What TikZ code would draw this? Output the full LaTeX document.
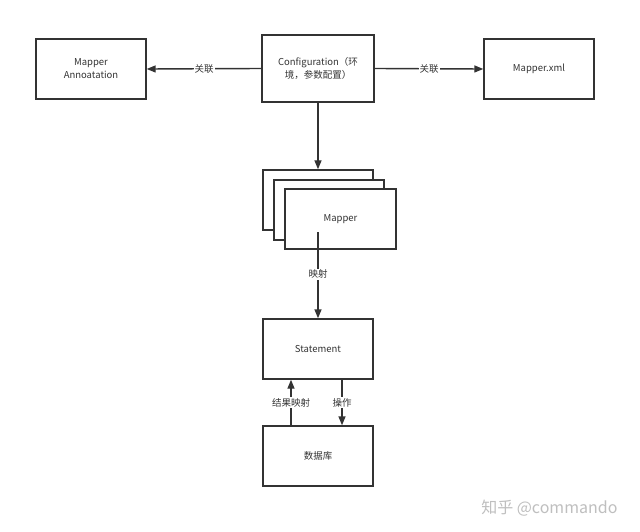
\documentclass[tikz,border=0pt]{standalone}
\usepackage{fontspec}
\setmainfont{Noto Sans CJK SC}
\usetikzlibrary{arrows.meta}
\definecolor{ink}{HTML}{333333}
\begin{document}
\begin{tikzpicture}[x=1pt,y=-1pt,
  box/.style={draw=ink,line width=1.4pt,fill=white,inner sep=0pt,font=\fontsize{9.5}{13}\selectfont,align=center,text=ink},
  conn/.style={draw=ink,line width=1.4pt,-{Triangle[length=9pt,width=7pt]}},
  lbl/.style={fill=white,inner sep=1pt,font=\fontsize{9.5}{11}\selectfont,text=ink}]
\path[use as bounding box,fill=white] (0,0) rectangle (640,532);
\node[box,minimum width=110pt,minimum height=60pt] (ann) at (91,69) {Mapper\\Annoatation};
\node[box,minimum width=112pt,minimum height=67pt] (cfg) at (318,68.5) {Configuration（环\\境，参数配置）};
\node[box,minimum width=110pt,minimum height=60pt] (xml) at (539,69) {Mapper.xml};
\node[box,minimum width=110pt,minimum height=60pt] (m1) at (318,200) {};
\node[box,minimum width=110pt,minimum height=60pt] (m2) at (329,210) {};
\node[box,minimum width=111pt,minimum height=60pt] (m3) at (340.5,219) {};
\node[font=\fontsize{9.5}{13}\selectfont,text=ink] (mt) at (340.5,219) {Mapper};
\coordinate (ms) at (318,232);
\node[box,minimum width=110pt,minimum height=60pt] (st) at (318,349) {Statement};
\node[box,minimum width=110pt,minimum height=60pt] (db) at (318,456) {数据库};
\draw[conn] (cfg.west) -- node[lbl]{关联} (ann.east);
\draw[conn] (cfg.east) -- node[lbl]{关联} (xml.west);
\draw[conn] (cfg.south) -- (m1.north);
\draw[conn] (ms) -- node[lbl,pos=0.49]{映射} (st.north);
\draw[conn] (db.north -| 291,0) -- node[lbl,pos=0.5]{结果映射} (st.south -| 291,0);
\draw[conn] (st.south -| 342,0) -- node[lbl,pos=0.5]{操作} (db.north -| 342,0);
\node[text=black!25,font=\fontsize{16}{18}\selectfont,anchor=east] (wm) at (621,508) {知乎 @commando};
\end{tikzpicture}
\end{document}
